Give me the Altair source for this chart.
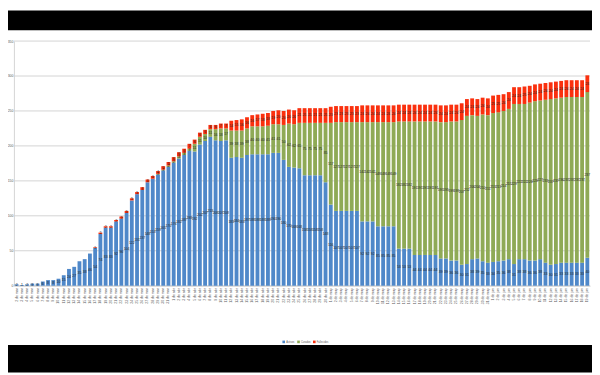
import altair as alt
import pandas as pd

MESES = {3: "mar", 4: "abr", 5: "may", 6: "jun", 7: "jul"}
inicio = pd.Timestamp("2020-03-02")
fechas = [inicio + pd.Timedelta(days=k) for k in range(110)]
dias = [f"{f.day} de {MESES[f.month]}" for f in fechas]

series = ["Activos", "Curados", "Fallecidos"]
colores = ["#4F88C9", "#8FAA56", "#FA300E"]

activos = [2, 1, 2, 3, 3, 6, 8, 8, 10, 15,
           24, 27, 35, 38, 46, 54, 74, 83, 83, 92,
           96, 104, 122, 131, 137, 148, 153, 159, 165, 170,
           176, 182, 187, 193, 192, 202, 207, 213, 208, 207,
           208, 183, 184, 183, 187, 188, 188, 188, 188, 190,
           190, 180, 170, 169, 168, 158, 158, 158, 158, 148,
           116, 107, 107, 107, 107, 107, 92, 92, 92, 85,
           85, 85, 85, 53, 53, 53, 44, 44, 44, 44,
           44, 39, 39, 36, 36, 30, 31, 38, 39, 35,
           33, 34, 35, 36, 38, 31, 38, 38, 36, 36,
           38, 33, 30, 31, 33, 33, 33, 33, 33, 40]

curados = [0, 0, 0, 0, 0, 0, 0, 0, 0, 0,
           0, 0, 0, 0, 0, 0, 0, 0, 0, 0,
           0, 0, 0, 0, 0, 0, 0, 1, 1, 2,
           2, 3, 3, 3, 11, 11, 10, 11, 16, 18,
           17, 39, 38, 39, 38, 40, 40, 40, 41, 41,
           41, 50, 62, 62, 65, 75, 75, 75, 75, 85,
           117, 127, 127, 127, 127, 127, 142, 142, 142, 149,
           149, 149, 149, 182, 182, 182, 191, 191, 191, 191,
           191, 195, 195, 199, 199, 207, 212, 206, 204, 210,
           211, 213, 213, 214, 215, 229, 222, 222, 226, 228,
           227, 233, 237, 237, 236, 237, 237, 237, 237, 237]

fallecidos = [0, 0, 0, 0, 0, 0, 0, 0, 0, 0,
              0, 0, 0, 0, 0, 1, 2, 2, 2, 2,
              3, 3, 3, 3, 4, 4, 4, 4, 5, 5,
              6, 6, 6, 7, 6, 6, 6, 6, 6, 7,
              7, 14, 15, 16, 16, 16, 17, 18, 18, 19,
              20, 20, 20, 20, 21, 21, 21, 21, 21, 21,
              23, 23, 23, 23, 23, 23, 24, 24, 24, 24,
              24, 24, 24, 24, 24, 24, 24, 24, 24, 24,
              24, 24, 24, 24, 24, 24, 24, 24, 24, 24,
              24, 25, 25, 24, 24, 24, 24, 25, 24, 24,
              24, 24, 24, 24, 24, 24, 24, 24, 24, 24]

y_ticks = [0, 50, 100, 150, 200, 250, 300, 350]

rows = []
for i, d in enumerate(dias):
    base = 0
    for s, vals in zip(series, (activos, curados, fallecidos)):
        v = vals[i]
        rows.append(dict(dia=d, serie=s, valor=v, y0=base, y1=base + v, mid=base + v / 2))
        base += v
df = pd.DataFrame(rows)

W, H = 584, 248
TOP = 31
FONT = "Liberation Sans"

yscale = alt.Scale(domain=[0, 350], nice=False)
xscale = alt.Scale(paddingInner=0.27, paddingOuter=0.15)
yaxis = alt.Axis(title=None, values=y_ticks, grid=False, labelFontSize=3.5,
                 labelOverlap=False, labelColor="#595959", ticks=False,
                 domainColor="#D4D4D4", labelPadding=1, labelFont=FONT)
xaxis = alt.Axis(title=None, labelAngle=-90, labelFontSize=3.5, labelColor="#595959",
                 labelOverlap=False, ticks=False, domainColor="#D0D0D0", grid=False,
                 labelPadding=2, labelFont=FONT)

grid = alt.Chart(pd.DataFrame({"v": y_ticks})).mark_rule(
    color="#D3D3D3", strokeWidth=1
).encode(y=alt.Y("v:Q", scale=yscale, axis=yaxis))

bars = alt.Chart(df).mark_bar().encode(
    x=alt.X("dia:N", sort=dias, scale=xscale, axis=xaxis),
    y=alt.Y("y0:Q", scale=yscale, axis=yaxis),
    y2="y1:Q",
    color=alt.Color("serie:N", scale=alt.Scale(domain=series, range=colores),
                    legend=alt.Legend(title=None, orient="none", legendX=272, legendY=303,
                                      direction="horizontal", symbolType="square",
                                      symbolSize=7, symbolStrokeWidth=0, labelFontSize=2.6,
                                      labelColor="#595959", columnPadding=2, labelOffset=1,
                                      labelFont=FONT)),
)

labels = alt.Chart(df).transform_filter("datum.valor > 0").mark_text(
    fontSize=3.5, color="#262626", font=FONT
).encode(
    x=alt.X("dia:N", sort=dias, scale=xscale, axis=xaxis),
    y=alt.Y("mid:Q", scale=yscale, axis=yaxis),
    text="valor:Q",
)

one = pd.DataFrame({"k": [0]})
top_band = alt.Chart(one).mark_rect(color="black").encode(
    x=alt.value(-6), x2=alt.value(W + 2), y=alt.value(-TOP), y2=alt.value(20 - TOP))
bottom_band = alt.Chart(one).mark_rect(color="black").encode(
    x=alt.value(-6), x2=alt.value(W + 2), y=alt.value(339 - TOP), y2=alt.value(367 - TOP))

chart = alt.layer(grid, bars, labels, top_band, bottom_band).properties(
    width=W, height=H,
    autosize=alt.AutoSizeParams(type="none"),
    padding={"left": 6, "top": TOP, "right": 2, "bottom": 367 - TOP - H},
    background="white",
).configure_view(stroke=None).configure_axis(labelOverlap=False)

chart.save("out.html", embed_options={"renderer": "svg", "actions": False})
